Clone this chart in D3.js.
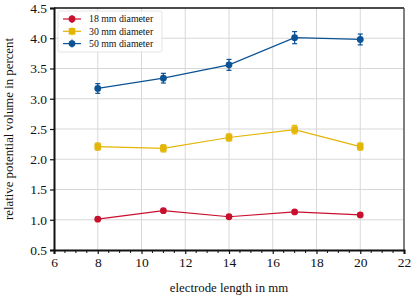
<!DOCTYPE html>
<html>
<head>
<meta charset="utf-8">
<script src="https://cdn.jsdelivr.net/npm/d3@7"></script>
<style>
  body { margin: 0; background: #fff; }
</style>
</head>
<body>
<svg id="chart" width="415" height="300"></svg>
<script>
// electrode lengths (mm)
var lengths = [8, 11, 14, 17, 20];

// relative potential volume in percent, per diameter
var d18 = [1.01, 1.15, 1.05, 1.13, 1.08];
var d18err = [0.02, 0.02, 0.02, 0.02, 0.02];
var d30 = [2.21, 2.18, 2.36, 2.49, 2.21];
var d30err = [0.06, 0.06, 0.06, 0.07, 0.06];
var d50 = [3.17, 3.34, 3.56, 4.01, 3.98];
var d50err = [0.08, 0.08, 0.09, 0.10, 0.09];

var seriesNames = ['18 mm diameter', '30 mm diameter', '50 mm diameter'];
var xTicks = [6, 8, 10, 12, 14, 16, 18, 20, 22];
var yTicks = [0.5, 1.0, 1.5, 2.0, 2.5, 3.0, 3.5, 4.0, 4.5];

var series = [
  {name: seriesNames[0], values: d18, errs: d18err, color: '#c8102e', shape: 'circle'},
  {name: seriesNames[1], values: d30, errs: d30err, color: '#e3b505', shape: 'square'},
  {name: seriesNames[2], values: d50, errs: d50err, color: '#0b5394', shape: 'circle'}
];

var FONT = '"Liberation Serif", "Times New Roman", serif';
var margin = {left: 54, right: 11, top: 8, bottom: 50};
var W = 415, H = 300;
var svg = d3.select('#chart');

var x = d3.scaleLinear().domain([6, 22]).range([margin.left, W - margin.right]);
var y = d3.scaleLinear().domain([0.5, 4.5]).range([H - margin.bottom, margin.top]);

// grid
var grid = svg.append('g').attr('class', 'grid');
grid.selectAll('.vg').data(xTicks.slice(1, -1)).enter().append('line')
  .attr('x1', function(d) { return x(d); }).attr('x2', function(d) { return x(d); })
  .attr('y1', y(0.5)).attr('y2', y(4.5))
  .attr('stroke', '#d4d4d4').attr('stroke-width', 0.9);
grid.selectAll('.hg').data(yTicks.slice(1, -1)).enter().append('line')
  .attr('y1', function(d) { return y(d); }).attr('y2', function(d) { return y(d); })
  .attr('x1', x(6)).attr('x2', x(22))
  .attr('stroke', '#d4d4d4').attr('stroke-width', 0.9);

// frame top / right
svg.append('line').attr('x1', x(6)).attr('x2', x(22)).attr('y1', y(4.5)).attr('y2', y(4.5))
  .attr('stroke', '#111').attr('stroke-width', 1.5);
svg.append('line').attr('x1', x(22)).attr('x2', x(22)).attr('y1', y(4.5)).attr('y2', y(0.5))
  .attr('stroke', '#555').attr('stroke-width', 1.5);

// axes
var xAxis = d3.axisBottom(x).tickValues(xTicks).tickSize(4).tickPadding(3).tickFormat(d3.format('d'));
var gx = svg.append('g').attr('transform', 'translate(0,' + y(0.5) + ')').call(xAxis);
var minor = d3.range(6.5, 22, 0.5).filter(function(v) { return v % 2 !== 0; });
gx.selectAll('.minor').data(minor).enter().append('line')
  .attr('x1', function(d) { return x(d); }).attr('x2', function(d) { return x(d); })
  .attr('y1', 0).attr('y2', 3).attr('stroke', '#111').attr('stroke-width', 1);

var yAxis = d3.axisLeft(y).tickValues(yTicks).tickSize(4).tickPadding(3).tickFormat(d3.format('.1f'));
var gy = svg.append('g').attr('transform', 'translate(' + x(6) + ',0)').call(yAxis);

[gx, gy].forEach(function(g) {
  g.select('.domain').attr('stroke', '#111').attr('stroke-width', 2);
  g.selectAll('.tick line').attr('stroke', '#111').attr('stroke-width', 1.2);
  g.selectAll('.tick text').style('font-family', FONT).style('font-size', '13.5px').attr('fill', '#111');
});

// axis labels
svg.append('text').attr('x', (x(6) + x(22)) / 2).attr('y', 292)
  .attr('text-anchor', 'middle').style('font-family', FONT).style('font-size', '12.8px').attr('fill', '#111')
  .text('electrode length in mm');
svg.append('text').attr('transform', 'translate(13,' + ((y(0.5) + y(4.5)) / 2) + ') rotate(-90)')
  .attr('text-anchor', 'middle').style('font-family', FONT).style('font-size', '12.8px').attr('fill', '#111')
  .text('relative potential volume in percent');

// series
var line = d3.line()
  .x(function(d, i) { return x(lengths[i]); })
  .y(function(d) { return y(d); });

var drawMarker = function(g, s, cx, cy) {
  if (s.shape === 'square') {
    g.append('rect').attr('x', cx - 3.3).attr('y', cy - 3.3).attr('width', 6.6).attr('height', 6.6)
      .attr('fill', s.color);
  } else {
    g.append('circle').attr('cx', cx).attr('cy', cy).attr('r', 3.4).attr('fill', s.color);
  }
};

series.forEach(function(s) {
  var g = svg.append('g');
  g.append('path').datum(s.values).attr('d', line)
    .attr('fill', 'none').attr('stroke', s.color).attr('stroke-width', 1.2);
  s.values.forEach(function(v, i) {
    var cx = x(lengths[i]);
    var lo = y(v - s.errs[i]), hi = y(v + s.errs[i]);
    g.append('line').attr('x1', cx).attr('x2', cx).attr('y1', lo).attr('y2', hi)
      .attr('stroke', s.color).attr('stroke-width', 1.3);
    [lo, hi].forEach(function(yy) {
      g.append('line').attr('x1', cx - 2.5).attr('x2', cx + 2.5).attr('y1', yy).attr('y2', yy)
        .attr('stroke', s.color).attr('stroke-width', 1.2);
    });
    drawMarker(g, s, cx, y(v));
  });
});

// legend
var lg = svg.append('g').attr('transform', 'translate(58,11)');
lg.append('rect').attr('width', 104).attr('height', 41).attr('rx', 2)
  .attr('fill', '#fff').attr('fill-opacity', 0.85).attr('stroke', '#ddd').attr('stroke-width', 0.8);
series.forEach(function(s, i) {
  var ry = 8 + i * 12.3;
  lg.append('line').attr('x1', 5).attr('x2', 23).attr('y1', ry).attr('y2', ry)
    .attr('stroke', s.color).attr('stroke-width', 1.2);
  lg.append('line').attr('x1', 14).attr('x2', 14).attr('y1', ry - 4).attr('y2', ry + 4)
    .attr('stroke', s.color).attr('stroke-width', 1.2);
  drawMarker(lg, s, 14, ry);
  lg.append('text').attr('x', 31).attr('y', ry + 3.2).style('font-family', FONT).style('font-size', '9.8px')
    .attr('fill', '#111').text(s.name);
});
</script>
</body>
</html>
